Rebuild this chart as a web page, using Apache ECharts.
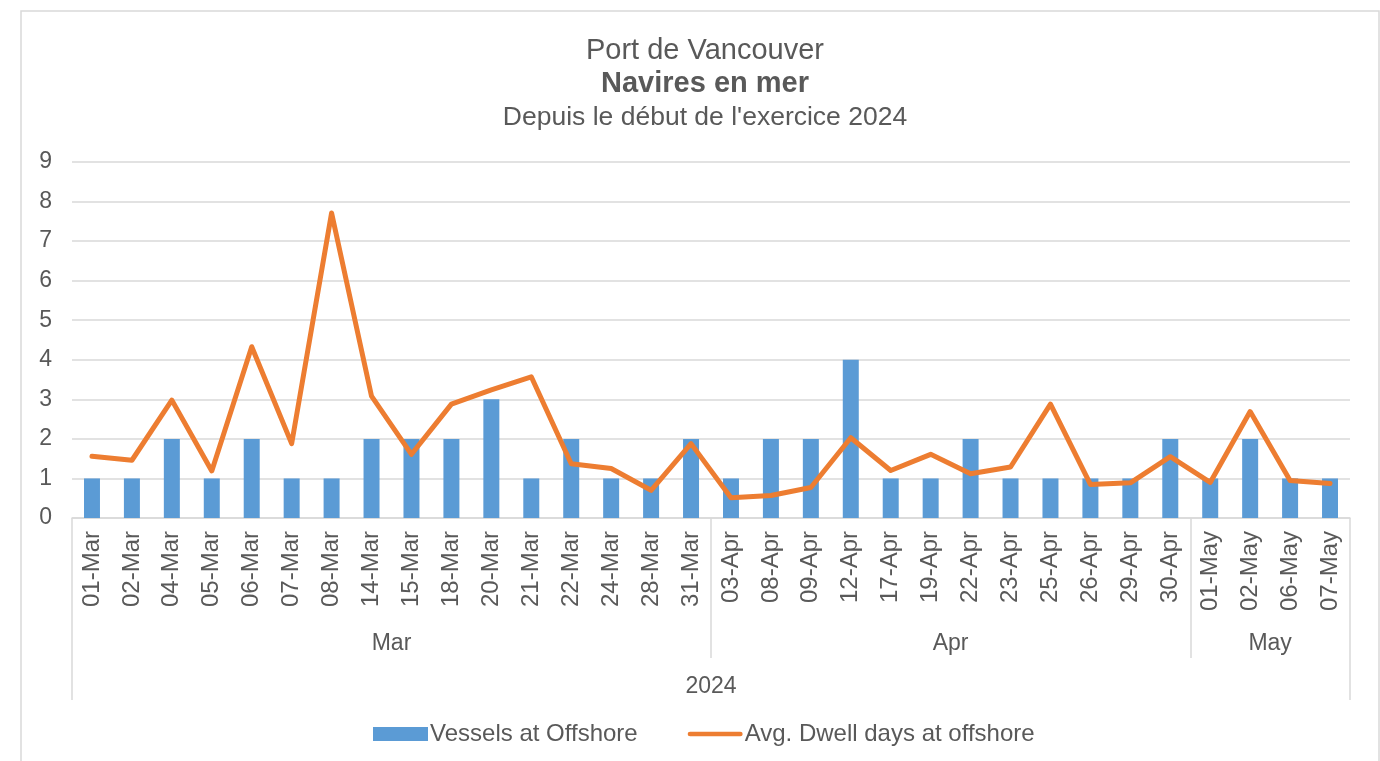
<!DOCTYPE html>
<html>
<head>
<meta charset="utf-8">
<script src="https://cdn.jsdelivr.net/npm/echarts@6/dist/echarts.min.js"></script>
<style>
  html, body { margin: 0; padding: 0; background: #fff; }
  #main { width: 1380px; height: 761px; }
</style>
</head>
<body>
<div id="main"></div>
<script>
// données
var days = ['01-Mar','02-Mar','04-Mar','05-Mar','06-Mar','07-Mar','08-Mar','14-Mar','15-Mar','18-Mar','20-Mar','21-Mar','22-Mar','24-Mar','28-Mar','31-Mar',
            '03-Apr','08-Apr','09-Apr','12-Apr','17-Apr','19-Apr','22-Apr','23-Apr','25-Apr','26-Apr','29-Apr','30-Apr',
            '01-May','02-May','06-May','07-May'];
var vessels = [1,1,2,1,2,1,1,2,2,2,3,1,2,1,1,2,
               1,2,2,4,1,1,2,1,1,1,1,2,
               1,2,1,1];
var dwell = [1.56,1.46,2.98,1.19,4.33,1.88,7.71,3.08,1.61,2.88,3.24,3.57,1.37,1.25,0.70,1.88,
             0.51,0.57,0.77,2.03,1.20,1.61,1.12,1.29,2.88,0.85,0.89,1.55,
             0.90,2.69,0.95,0.87];
var months = ['Mar','Apr','May'];
var monthCenters = [8, 22, 30];   // milieu de chaque groupe de mois
var monthBounds = [16, 28];       // séparateurs entre mois
var years = ['2024'];

var font = "'Liberation Sans', Arial, sans-serif";
var grey = '#595959';
var lineGrey = '#d9d9d9';

var chart = echarts.init(document.getElementById('main'));
chart.setOption({
    animation: false,
    textStyle: { fontFamily: font },
    //cadre
    graphic: [{
        type: 'rect',
        shape: { x: 21, y: 11, width: 1358, height: 800 },
        style: { fill: 'none', stroke: lineGrey, lineWidth: 1.5 },
        silent: true
    }],
    title: {
        left: 700,
        top: 29,
        textAlign: 'center',
        text: '{a|Port de Vancouver}\n{b|Navires en mer}\n{c|Depuis le début de l\'exercice 2024}',
        textStyle: {
            fontWeight: 'normal',
            rich: {
                a: { fontSize: 29, color: grey, fontWeight: 'normal', fontFamily: font, lineHeight: 33 },
                b: { fontSize: 29, color: grey, fontWeight: 'bold', fontFamily: font, lineHeight: 33 },
                c: { fontSize: 26.5, color: grey, fontWeight: 'normal', fontFamily: font, lineHeight: 35 }
            }
        }
    },
    legend: {
        bottom: 10,
        left: 368,
        itemGap: 50,
        itemWidth: 55,
        itemHeight: 14,
        textStyle: { fontSize: 24, color: grey, fontFamily: font, padding: [0, 0, 0, -3] },
        data: [
            { name: 'Vessels at Offshore', icon: 'rect' },
            { name: 'Avg. Dwell days at offshore', icon: 'path://M0,0L0.01,0ZM1,4.5L54,4.5A2.5,2.5,0,0,1,54,9.5L1,9.5A2.5,2.5,0,0,1,1,4.5ZM0,14L0.01,14Z' }
        ]
    },
    grid: { left: 72, right: 30, top: 162, bottom: 243, containLabel: false },
    xAxis: [
        {
            type: 'category',
            data: days,
            axisLine: { lineStyle: { color: lineGrey, width: 1.5 } },
            axisTick: { show: false },
            axisLabel: { rotate: 90, fontSize: 24, color: grey, margin: 13, interval: 0 }
        },
        {
            type: 'value', min: 0, max: 32,
            position: 'bottom',
            axisLine: { show: false },
            splitLine: { show: false },
            axisTick: { show: true, customValues: monthBounds, length: 140, lineStyle: { color: lineGrey, width: 1.5 } },
            axisLabel: {
                customValues: monthCenters, fontSize: 23, color: grey, margin: 114,
                formatter: function (v) { return months[monthCenters.indexOf(v)]; }
            }
        },
        {
            type: 'value', min: 0, max: 32,
            position: 'bottom',
            axisLine: { show: false },
            splitLine: { show: false },
            axisTick: { show: true, customValues: [0, 32], length: 182, lineStyle: { color: lineGrey, width: 1.5 } },
            axisLabel: {
                customValues: [16], fontSize: 23, color: grey, margin: 157,
                formatter: function () { return years[0]; }
            }
        }
    ],
    yAxis: {
        type: 'value', min: 0, max: 9, interval: 1,
        axisLine: { show: false },
        axisTick: { show: false },
        splitLine: { lineStyle: { color: lineGrey, width: 1.5 } },
        axisLabel: { fontSize: 23, color: grey, margin: 20 }
    },
    series: [
        {
            name: 'Vessels at Offshore',
            type: 'bar',
            barWidth: 16,
            itemStyle: { color: '#5B9BD5' },
            data: vessels
        },
        {
            name: 'Avg. Dwell days at offshore',
            type: 'line',
            symbol: 'none',
            lineStyle: { color: '#ED7D31', width: 5, cap: 'round', join: 'round' },
            itemStyle: { color: '#ED7D31' },
            data: dwell
        }
    ]
});
</script>
</body>
</html>
